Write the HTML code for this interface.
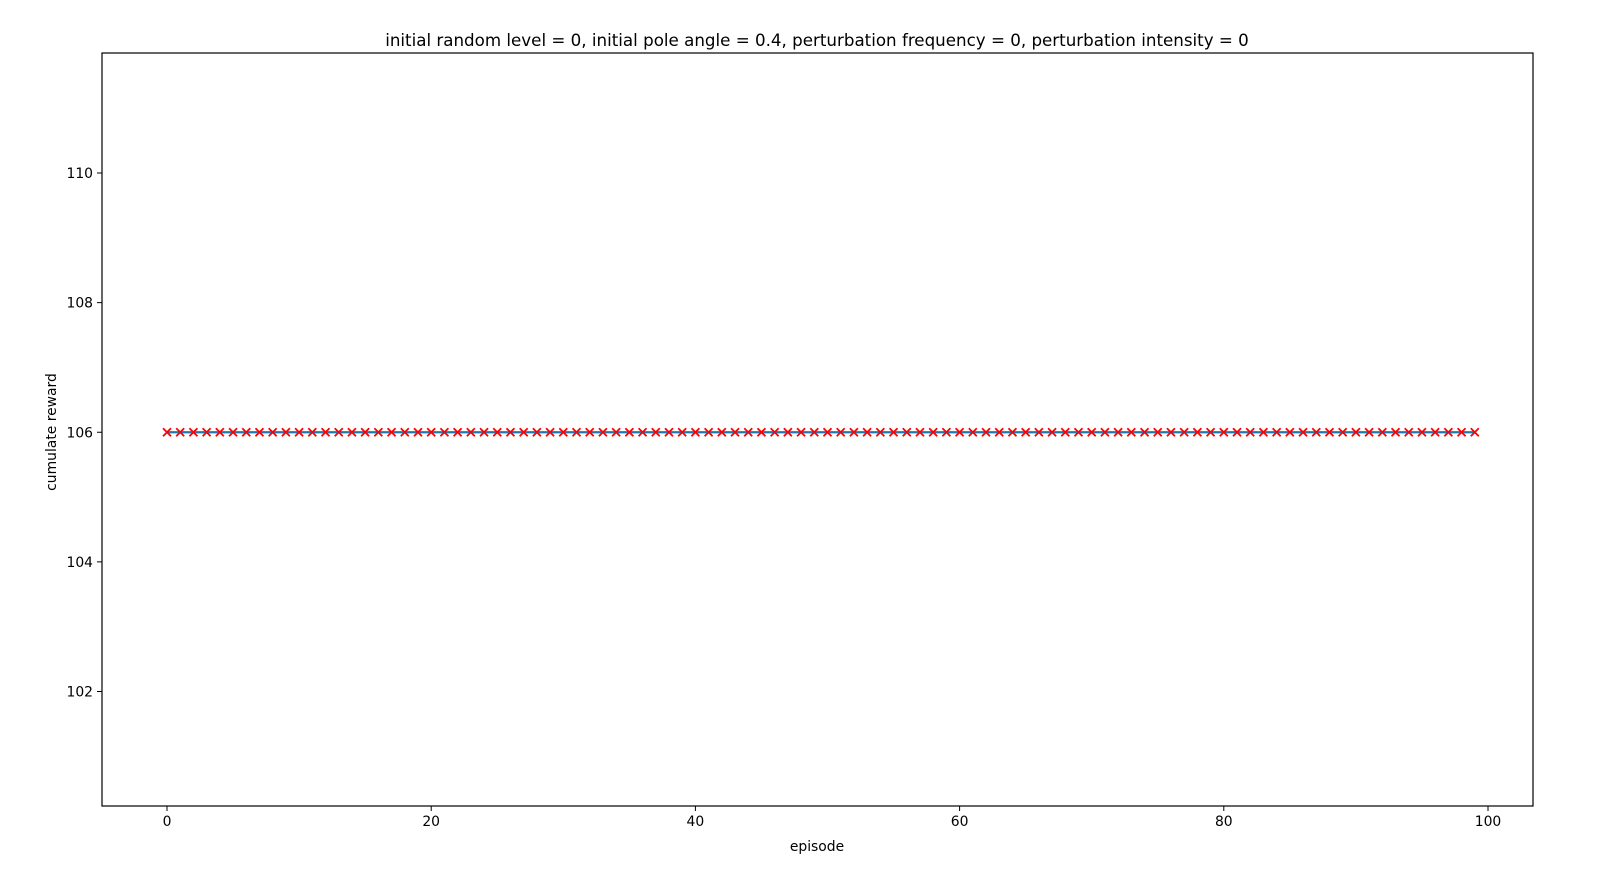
<!DOCTYPE html>
<html><head><meta charset="utf-8"><style>body{margin:0;background:#fff}svg{display:block}text{font-family:"DejaVu Sans","Liberation Sans",sans-serif}</style></head>
<body>
<svg id="chart" width="1613" height="873" xmlns="http://www.w3.org/2000/svg">
<rect width="1613" height="873" fill="#fff"/>
<text x="817" y="46" font-size="16.7" text-anchor="middle">initial random level = 0, initial pole angle = 0.4, perturbation frequency = 0, perturbation intensity = 0</text>
<text x="0" y="0" font-size="13.9" text-anchor="middle" transform="translate(56,432) rotate(-90)">cumulate reward</text>
<text x="817" y="851" font-size="13.9" text-anchor="middle">episode</text>
<g id="ticks"></g>
<g id="marks"></g>
<rect x="102" y="53" width="1431" height="753" fill="none" stroke="#000" stroke-width="1.2"/>
</svg>
<script>
const xTicks=[0,20,40,60,80,100];
const yTicks=[102,104,106,108,110];
const episodes=[];for(let i=0;i<100;i++)episodes.push(i);
const rewards=[106,106,106,106,106,106,106,106,106,106,106,106,106,106,106,106,106,106,106,106,106,106,106,106,106,106,106,106,106,106,106,106,106,106,106,106,106,106,106,106,106,106,106,106,106,106,106,106,106,106,106,106,106,106,106,106,106,106,106,106,106,106,106,106,106,106,106,106,106,106,106,106,106,106,106,106,106,106,106,106,106,106,106,106,106,106,106,106,106,106,106,106,106,106,106,106,106,106,106,106];
const NS='http://www.w3.org/2000/svg';
const X=v=>167+(v-0)*(1488-167)/100;
const Y=v=>173+(110-v)*(691.5-173)/8;
function mk(t,a,p){const e=document.createElementNS(NS,t);for(const k in a)e.setAttribute(k,a[k]);p.appendChild(e);return e;}
const tg=document.getElementById('ticks');
xTicks.forEach(v=>{
 const l=mk('line',{x1:X(v),x2:X(v),y1:806,y2:811,stroke:'#000','stroke-width':1},tg);
 
 
 const t=mk('text',{x:X(v),y:826,'font-size':13.9,'text-anchor':'middle'},tg);t.textContent=v;
 
 
});
yTicks.forEach(v=>{
 const l=mk('line',{x1:97,x2:102,y1:Y(v),y2:Y(v),stroke:'#000','stroke-width':1},tg);
 
 
 const t=mk('text',{x:93,y:Y(v)+5,'font-size':13.9,'text-anchor':'end'},tg);t.textContent=v;
 
 
});
const mg=document.getElementById('marks');
const pl=mk('polyline',{points:episodes.map((e,i)=>X(e)+','+Y(rewards[i])).join(' '),fill:'none',stroke:'#1f77b4','stroke-width':2.2},mg);


episodes.forEach((e,i)=>{
 const x=X(e),y=Y(rewards[i]),s=4;
 const p=mk('path',{d:`M${x-s},${y-s}L${x+s},${y+s}M${x-s},${y+s}L${x+s},${y-s}`,stroke:'#ff0000','stroke-width':1.8,fill:'none'},mg);
 
 
});
</script>
</body></html>
